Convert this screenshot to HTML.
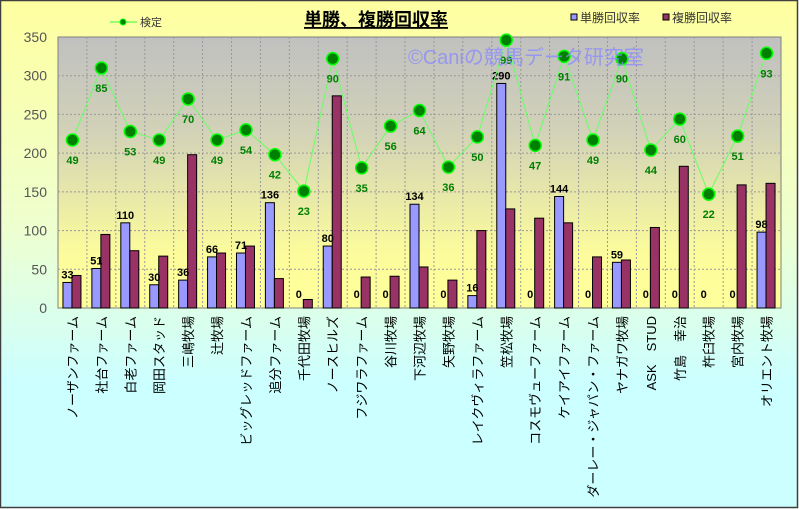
<!DOCTYPE html>
<html><head><meta charset="utf-8"><style>
html,body{margin:0;padding:0;width:799px;height:509px;overflow:hidden;background:#fff}
svg{display:block}
text{font-family:"Liberation Sans","Noto Sans CJK JP",sans-serif}
</style></head><body>
<svg id="s" width="799" height="509" xmlns="http://www.w3.org/2000/svg">
<defs>
<linearGradient id="bg" x1="0" y1="0" x2="0" y2="1">
<stop offset="0" stop-color="#ffffa0"/><stop offset="0.45" stop-color="#eeffd0"/><stop offset="0.75" stop-color="#ccffff"/><stop offset="1" stop-color="#ccffff"/></linearGradient>
<linearGradient id="pa" x1="0" y1="0" x2="0" y2="1">
<stop offset="0" stop-color="#c0c0c0"/><stop offset="0.35" stop-color="#d2d2b8"/><stop offset="0.8" stop-color="#fcfc9c"/><stop offset="1" stop-color="#ffff99"/></linearGradient>
</defs>
<rect x="0.5" y="0.5" width="797" height="507" fill="url(#bg)" stroke="#404040" stroke-width="1.5"/>
<g id="g"></g>
</svg>
<script>
var names=["ノーザンファーム","社台ファーム","白老ファーム","岡田スタッド","三嶋牧場","辻牧場","ビッグレッドファーム","追分ファーム","千代田牧場","ノースヒルズ","フジワラファーム","谷川牧場","下河辺牧場","矢野牧場","レイクヴィラファーム","笠松牧場","コスモヴューファーム","ケイアイファーム","ダーレー・ジャパン・ファーム","ヤナガワ牧場","ASK　STUD","竹島　幸治","杵臼牧場","宮内牧場","オリエント牧場"];
var win=[33,51,110,30,36,66,71,136,0,80,0,0,134,0,16,290,0,144,0,59,0,0,0,0,98];
var plc=[42,95,74,67,198,71,80,38,11,274,40,41,53,36,100,128,116,110,66,62,104,183,0,159,161];
var ln=[217,310,228,217,270,217,230,198,151,322,181,235,255,182,221,346,210,325,217,322,204,244,147,222,329];
var lb=[49,85,53,49,70,49,54,42,23,90,35,56,64,36,50,99,47,91,49,90,44,60,22,51,93];
var L=58,R=781,T=37,B=308,n=25,w=(R-L)/n,k=(B-T)/350;
function y(v){return B-v*k}
var h='';
h+='<rect x="'+L+'" y="'+T+'" width="'+(R-L)+'" height="'+(B-T)+'" fill="url(#pa)" stroke="#808080"/>';
for(var v=50;v<350;v+=50)h+='<line x1="'+L+'" x2="'+R+'" y1="'+y(v)+'" y2="'+y(v)+'" stroke="#999" stroke-dasharray="2,2"/>';
for(var i=1;i<n;i++){var x=L+i*w;h+='<line x1="'+x+'" x2="'+x+'" y1="'+T+'" y2="'+B+'" stroke="#999" stroke-dasharray="2,2"/>';}
for(var v=0;v<=350;v+=50)h+='<text x="47" y="'+(y(v)+5)+'" font-size="14" fill="#555" text-anchor="end">'+v+'</text>';
for(var i=0;i<n;i++){var c=L+(i+.5)*w;
if(win[i]>0)h+='<rect x="'+(c-9.5)+'" y="'+y(win[i])+'" width="9" height="'+(win[i]*k)+'" fill="#9999ff" stroke="#000" stroke-width="1"/>';
if(plc[i]>0)h+='<rect x="'+(c-0.5)+'" y="'+y(plc[i])+'" width="9" height="'+(plc[i]*k)+'" fill="#993366" stroke="#000" stroke-width="1"/>';
h+='<text x="'+(c-5)+'" y="'+(Math.min(y(win[i]),y(0)-6)-4)+'" font-size="11" font-weight="bold" fill="#000" text-anchor="middle">'+win[i]+'</text>';
h+='<text transform="translate('+(c+5)+',316) rotate(-90)" font-size="13" fill="#000" text-anchor="end">'+names[i]+'</text>';
}
var pts=[];for(var i=0;i<n;i++)pts.push((L+(i+.5)*w)+','+y(ln[i]));
h+='<polyline points="'+pts.join(' ')+'" fill="none" stroke="#66ff66" stroke-width="1"/>';
for(var i=0;i<n;i++){var c=L+(i+.5)*w;
h+='<circle cx="'+c+'" cy="'+y(ln[i])+'" r="6" fill="#008000" stroke="#00ff00" stroke-width="1.5"/>';
h+='<text x="'+c+'" y="'+(y(ln[i])+24)+'" font-size="11" font-weight="bold" fill="#008000" text-anchor="middle">'+lb[i]+'</text>';}
h+='<text x="408" y="64" font-size="20" fill="#8888ff" fill-opacity="0.75">©Caniの競馬データ研究室</text>';
h+='<text x="376" y="26" font-size="18" font-weight="bold" fill="#000" text-anchor="middle" text-decoration="underline">単勝、複勝回収率</text>';
h+='<line x1="110" x2="137" y1="22" y2="22" stroke="#33ff33"/><circle cx="123" cy="22" r="3" fill="#008000" stroke="#00ff00"/>';
h+='<text x="140" y="26" font-size="11" fill="#333">検定</text>';
h+='<rect x="571" y="14" width="6" height="6" fill="#9999ff" stroke="#000"/><text x="580" y="22" font-size="12" fill="#333">単勝回収率</text>';
h+='<rect x="663" y="14" width="6" height="6" fill="#993366" stroke="#000"/><text x="672" y="22" font-size="12" fill="#333">複勝回収率</text>';
document.getElementById('g').innerHTML=h;
</script>
</body></html>
